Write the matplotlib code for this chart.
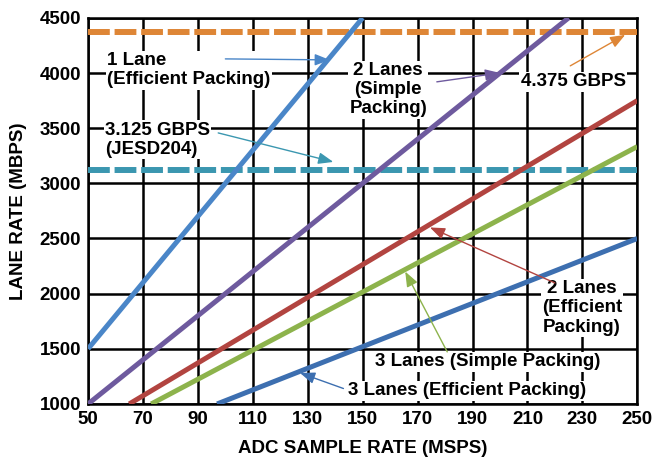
import matplotlib
matplotlib.use("Agg")
import matplotlib.pyplot as plt

plt.rcParams['font.family'] = ['Liberation Sans', 'DejaVu Sans']
plt.rcParams['font.weight'] = 'bold'

# Series endpoints (ADC sample rate MSPS, lane rate MBPS)
one_lane_eff_x = [50, 150]
one_lane_eff_y = [1500, 4500]
two_lane_simple_x = [50, 225]
two_lane_simple_y = [1000, 4500]
two_lane_eff_x = [65, 250]
two_lane_eff_y = [1000, 3750]
three_lane_simple_x = [73, 250]
three_lane_simple_y = [1000, 3333]
three_lane_eff_x = [97, 250]
three_lane_eff_y = [1000, 2500]

jesd_limit = 3125
gbps_4375 = 4375

x_ticks = [50, 70, 90, 110, 130, 150, 170, 190, 210, 230, 250]
y_ticks = [1000, 1500, 2000, 2500, 3000, 3500, 4000, 4500]

c_light_blue = '#4a86c8'
c_dark_blue = '#3d6fb0'
c_purple = '#6e5a9e'
c_red = '#b24440'
c_green = '#8db34c'
c_orange = '#de8636'
c_teal = '#3b97b0'

FS = 13.5

fig = plt.figure(figsize=(6.57, 4.58), dpi=100)
ax = fig.add_axes([0.134, 0.118, 0.836, 0.843])

ax.set_xlim(50, 250)
ax.set_ylim(1000, 4500)
ax.set_xticks(x_ticks)
ax.set_yticks(y_ticks)
ax.grid(True, color='black', linewidth=1.8)
ax.set_axisbelow(True)
for s in ax.spines.values():
    s.set_linewidth(1.8)
ax.tick_params(length=0, labelsize=FS, pad=5)
for lab in ax.get_xticklabels() + ax.get_yticklabels():
    lab.set_fontweight('bold')

ax.axhline(gbps_4375, color=c_orange, lw=4.3, dashes=(3.65, 0.8), zorder=3)
ax.axhline(jesd_limit, color=c_teal, lw=4.3, dashes=(3.65, 0.8), zorder=3)

lw = 3.6
ax.plot(one_lane_eff_x, one_lane_eff_y, color=c_light_blue, lw=lw, zorder=4, solid_capstyle='butt')
ax.plot(two_lane_simple_x, two_lane_simple_y, color=c_purple, lw=lw, zorder=4, solid_capstyle='butt')
ax.plot(two_lane_eff_x, two_lane_eff_y, color=c_red, lw=lw, zorder=4, solid_capstyle='butt')
ax.plot(three_lane_simple_x, three_lane_simple_y, color=c_green, lw=lw, zorder=4, solid_capstyle='butt')
ax.plot(three_lane_eff_x, three_lane_eff_y, color=c_dark_blue, lw=lw, zorder=4, solid_capstyle='butt')

ax.set_xlabel('ADC SAMPLE RATE (MSPS)', fontsize=FS, fontweight='bold', labelpad=9)
ax.set_ylabel('LANE RATE (MBPS)', fontsize=FS, fontweight='bold', labelpad=9)

bbox = dict(facecolor='white', edgecolor='none', pad=1.0)

def arrow(tail, head, color):
    ax.annotate('', xy=head, xytext=tail, zorder=7,
                arrowprops=dict(arrowstyle='-|>,head_length=0.9,head_width=0.35',
                                color=color, lw=1, shrinkA=0, shrinkB=0))

def label(text, pos, ha='left', ma='left'):
    ax.text(pos[0], pos[1], text, fontsize=FS, fontweight='bold', ha=ha, va='center',
            multialignment=ma, bbox=bbox, zorder=6, linespacing=1.17)

label('1 Lane\n(Efficient Packing)', (57, 4025))
arrow((100, 4128), (138, 4119), c_light_blue)

label('2 Lanes\n(Simple\nPacking)', (159.3, 3850), ha='center', ma='center')
arrow((177, 3920), (200, 4001), c_purple)

label('4.375 GBPS', (226.7, 3920), ha='center')
arrow((225.6, 4065), (245.6, 4346), c_orange)

label('3.125 GBPS\n(JESD204)', (56.2, 3395))
arrow((97.4, 3457), (139.3, 3194), c_teal)

label('2 Lanes\n(Efficient\nPacking)', (244.5, 1870), ha='right', ma='center')
arrow((220, 2097), (174.5, 2600), c_red)

label('3 Lanes (Simple Packing)', (195.4, 1381), ha='center')
arrow((180.8, 1472), (165.5, 2200), c_green)

label('3 Lanes (Efficient Packing)', (188.1, 1118), ha='center')
arrow((143, 1140), (127.2, 1281), c_dark_blue)

fig.savefig('out.png', dpi=100)
